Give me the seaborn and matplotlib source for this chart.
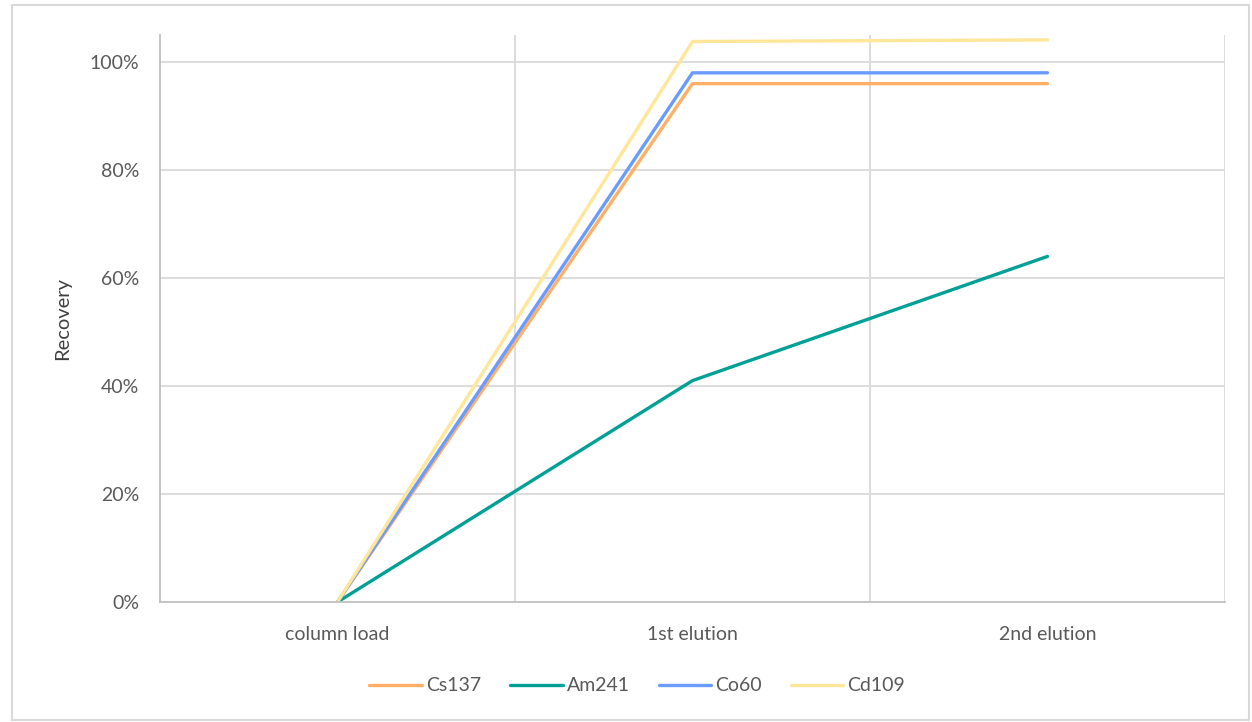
import pandas as pd
import seaborn as sns
import matplotlib.pyplot as plt
from matplotlib.patches import Rectangle
from matplotlib.ticker import PercentFormatter

# data
steps = ['column load', '1st elution', '2nd elution']
cs137 = [0.0, 0.96, 0.96]
am241 = [0.0, 0.41, 0.64]
co60 = [0.0, 0.98, 0.98]
cd109 = [0.0, 1.038, 1.041]

isotopes = ['Cs137', 'Am241', 'Co60', 'Cd109']
colors = ['#FFB066', '#00A096', '#6A9BFF', '#FFE699']

df = pd.DataFrame({'step': steps * 4,
                   'x': list(range(len(steps))) * 4,
                   'recovery': cs137 + am241 + co60 + cd109,
                   'isotope': [iso for iso in isotopes for _ in steps]})

sns.set_style('white')
plt.rcParams['font.family'] = ['Lato', 'DejaVu Sans']

fig = plt.figure(figsize=(12.52, 7.22), dpi=100)
ax = fig.add_axes([0.1278, 0.1662, 0.8506, 0.7853])

sns.lineplot(data=df, x='x', y='recovery', hue='isotope', hue_order=isotopes,
             palette=colors, linewidth=2.4, ax=ax, legend=True)

ax.set_xlim(-0.5, 2.5)
ax.set_ylim(0, 1.05)
ax.set_xticks(range(len(steps)))
ax.set_xticklabels(steps)
ax.set_yticks([0, 0.2, 0.4, 0.6, 0.8, 1.0])
ax.yaxis.set_major_formatter(PercentFormatter(1.0, decimals=0))
ax.tick_params(axis='both', colors='#595959', labelsize=14, length=0)
ax.tick_params(axis='y', pad=15)
ax.tick_params(axis='x', pad=17)

grid_c = '#D9D9D9'
ax.set_axisbelow(True)
for yv in [0.2, 0.4, 0.6, 0.8, 1.0]:
    ax.axhline(yv, color=grid_c, lw=1.3, zorder=0)
for xv in [0.5, 1.5, 2.5]:
    ax.axvline(xv, color=grid_c, lw=1.3, zorder=0)

for side in ['top', 'right']:
    ax.spines[side].set_visible(False)
for side in ['left', 'bottom']:
    ax.spines[side].set_color('#BFBFBF')
    ax.spines[side].set_linewidth(1.3)

ax.set_xlabel('')
ax.set_ylabel('Recovery', color='#404040', fontsize=14.5)
ax.yaxis.set_label_coords(-0.083, 0.5)

ax.legend(loc='center', bbox_to_anchor=(0.509, 0.050), bbox_transform=fig.transFigure,
          ncol=4, frameon=False, fontsize=14, labelcolor='#595959',
          handlelength=2.7, columnspacing=1.5, handletextpad=0.2)

# light chart border
fig.patches.append(Rectangle((12 / 1252, 0.003), 1237 / 1252, 1 - 5 / 722 - 0.003,
                             transform=fig.transFigure, fill=False,
                             edgecolor='#D9D9D9', lw=1.5))

fig.savefig('out.png', dpi=100)
